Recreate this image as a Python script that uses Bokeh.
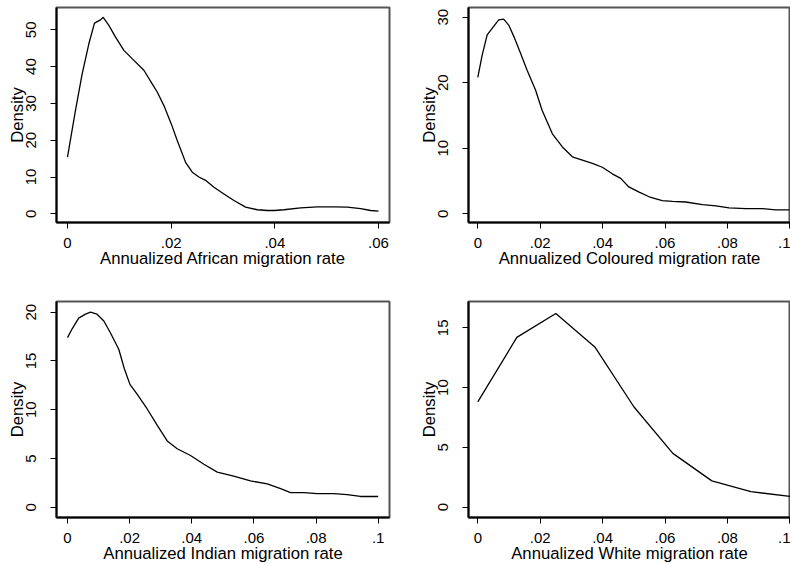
from bokeh.plotting import figure
from bokeh.layouts import column, row
from bokeh.models import Range1d, FixedTicker, CustomJSTickFormatter
from bokeh.embed import file_html
from bokeh.resources import INLINE

# ---------------- data ----------------
african_x = [0.0, 0.00154, 0.00283, 0.00412, 0.00521, 0.00637, 0.00689, 0.00798, 0.00927,
             0.01088, 0.01281, 0.01474, 0.01634, 0.01731, 0.0186, 0.02, 0.02117, 0.02278,
             0.02407, 0.02535, 0.02664, 0.02825, 0.03018, 0.03211, 0.03436, 0.03662,
             0.03855, 0.0399, 0.04176, 0.04498, 0.0482, 0.05142, 0.05399, 0.05656, 0.0585, 0.06]
african_y = [15.4, 28.1, 38.0, 46.2, 51.8, 52.7, 53.4, 51.2, 48.0,
             44.4, 41.7, 39.0, 35.3, 33.1, 29.4, 24.5, 19.9, 14.0,
             11.3, 10.0, 9.1, 7.2, 5.4, 3.6, 1.8, 1.1,
             0.9, 0.9, 1.1, 1.6, 1.9, 1.9, 1.8, 1.4, 0.9, 0.7]

coloured_x = [0.0, 0.0014, 0.003, 0.0046, 0.0067, 0.0083, 0.0099, 0.0116, 0.0137, 0.0158,
              0.0185, 0.0206, 0.0239, 0.0271, 0.0303, 0.0335, 0.0367, 0.0399, 0.0431,
              0.0458, 0.0484, 0.0517, 0.0549, 0.0591, 0.0624, 0.0666, 0.072, 0.0763,
              0.0805, 0.0859, 0.0912, 0.0955, 0.0998]
coloured_y = [20.8, 24.2, 27.3, 28.3, 29.6, 29.7, 28.8, 27.0, 24.5, 21.9,
              18.9, 15.8, 12.2, 10.2, 8.7, 8.2, 7.7, 7.1, 6.1,
              5.4, 4.1, 3.3, 2.6, 2.0, 1.9, 1.8, 1.4, 1.2,
              0.9, 0.8, 0.8, 0.6, 0.6]

indian_x = [0.0, 0.0015, 0.0036, 0.0058, 0.0074, 0.0095, 0.0117, 0.0138, 0.0165, 0.0183,
            0.0201, 0.0224, 0.0256, 0.0289, 0.0321, 0.0353, 0.0396, 0.0439, 0.0482,
            0.0535, 0.0589, 0.0643, 0.0686, 0.0718, 0.0761, 0.0804, 0.0857, 0.09, 0.0943, 0.1]
indian_y = [17.4, 18.3, 19.4, 19.8, 20.0, 19.8, 19.1, 17.9, 16.2, 14.2,
            12.6, 11.6, 10.1, 8.4, 6.8, 6.0, 5.3, 4.4, 3.6,
            3.2, 2.7, 2.4, 1.9, 1.5, 1.5, 1.4, 1.4, 1.3, 1.1, 1.1]

white_x = [0.0, 0.0125, 0.025, 0.0375, 0.05, 0.0625, 0.075, 0.0875, 0.1]
white_y = [8.8, 14.2, 16.2, 13.4, 8.4, 4.5, 2.2, 1.3, 0.9]

x_ticks_african = [0, 0.02, 0.04, 0.06]
x_ticks_other = [0, 0.02, 0.04, 0.06, 0.08, 0.1]
y_ticks_african = [0, 10, 20, 30, 40, 50]
y_ticks_coloured = [0, 10, 20, 30]
y_ticks_indian = [0, 5, 10, 15, 20]
y_ticks_white = [0, 5, 10, 15]

x_titles = ["Annualized African migration rate", "Annualized Coloured migration rate",
            "Annualized Indian migration rate", "Annualized White migration rate"]
y_title = "Density"

FONT = "Liberation Sans"

fmt = CustomJSTickFormatter(code="""
    if (Math.abs(tick) < 1e-12) return "0";
    const s = (Math.round(tick * 100) / 100).toString();
    return s.replace(/^0\\./, ".");
""")


def panel(xs, ys, xr, yr, xticks, yticks, xtitle, fw, fh, bl, br, bt, bb):
    p = figure(frame_width=fw, frame_height=fh, output_backend="svg", toolbar_location=None,
               x_range=Range1d(*xr), y_range=Range1d(*yr),
               min_border_left=bl, min_border_right=br, min_border_top=bt, min_border_bottom=bb)
    p.line(xs, ys, line_color="black", line_width=1.3)
    p.grid.visible = False
    p.background_fill_color = "white"
    p.border_fill_color = "white"
    p.outline_line_color = "#555555"
    p.outline_line_width = 2

    xa = p.xaxis[0]
    xa.ticker = FixedTicker(ticks=xticks)
    xa.formatter = fmt
    xa.axis_label = xtitle
    ya = p.yaxis[0]
    ya.ticker = FixedTicker(ticks=yticks)
    ya.axis_label = y_title
    ya.major_label_orientation = "vertical"

    for ax in (xa, ya):
        ax.axis_line_color = "black"
        ax.axis_line_width = 2
        ax.major_tick_line_color = "black"
        ax.major_tick_line_width = 1
        ax.major_tick_out = 6
        ax.major_tick_in = 0
        ax.minor_tick_line_color = None
        ax.major_label_text_font = FONT
        ax.major_label_text_font_size = "15px"
        ax.major_label_text_color = "black"
        ax.axis_label_text_font = FONT
        ax.axis_label_text_font_size = "16.7px"
        ax.axis_label_text_font_style = "normal"
        ax.axis_label_text_color = "black"
    xa.major_label_standoff = 9
    xa.axis_label_standoff = -2
    ya.major_label_standoff = 14
    ya.axis_label_standoff = -3
    return p


p1 = panel(african_x, african_y, (-0.00212, 0.06212), (-2.364, 56.06),
           x_ticks_african, y_ticks_african, x_titles[0], 333, 215, 56, 19, 7, 71)
p2 = panel(coloured_x, coloured_y, (-0.00298, 0.1002), (-1.328, 31.48),
           x_ticks_other, y_ticks_coloured, x_titles[1], 322, 215, 60, 0, 7, 71)
p3 = panel(indian_x, indian_y, (-0.00354, 0.10364), (-1.056, 21.10),
           x_ticks_other, y_ticks_indian, x_titles[2], 333, 216, 56, 19, 8, 46)
p4 = panel(white_x, white_y, (-0.00298, 0.1002), (-0.861, 17.2),
           x_ticks_other, y_ticks_white, x_titles[3], 322, 216, 60, 0, 8, 46)

layout = column(row(p1, p2), row(p3, p4))

with open("out.html", "w") as f:
    f.write(file_html(layout, INLINE))
